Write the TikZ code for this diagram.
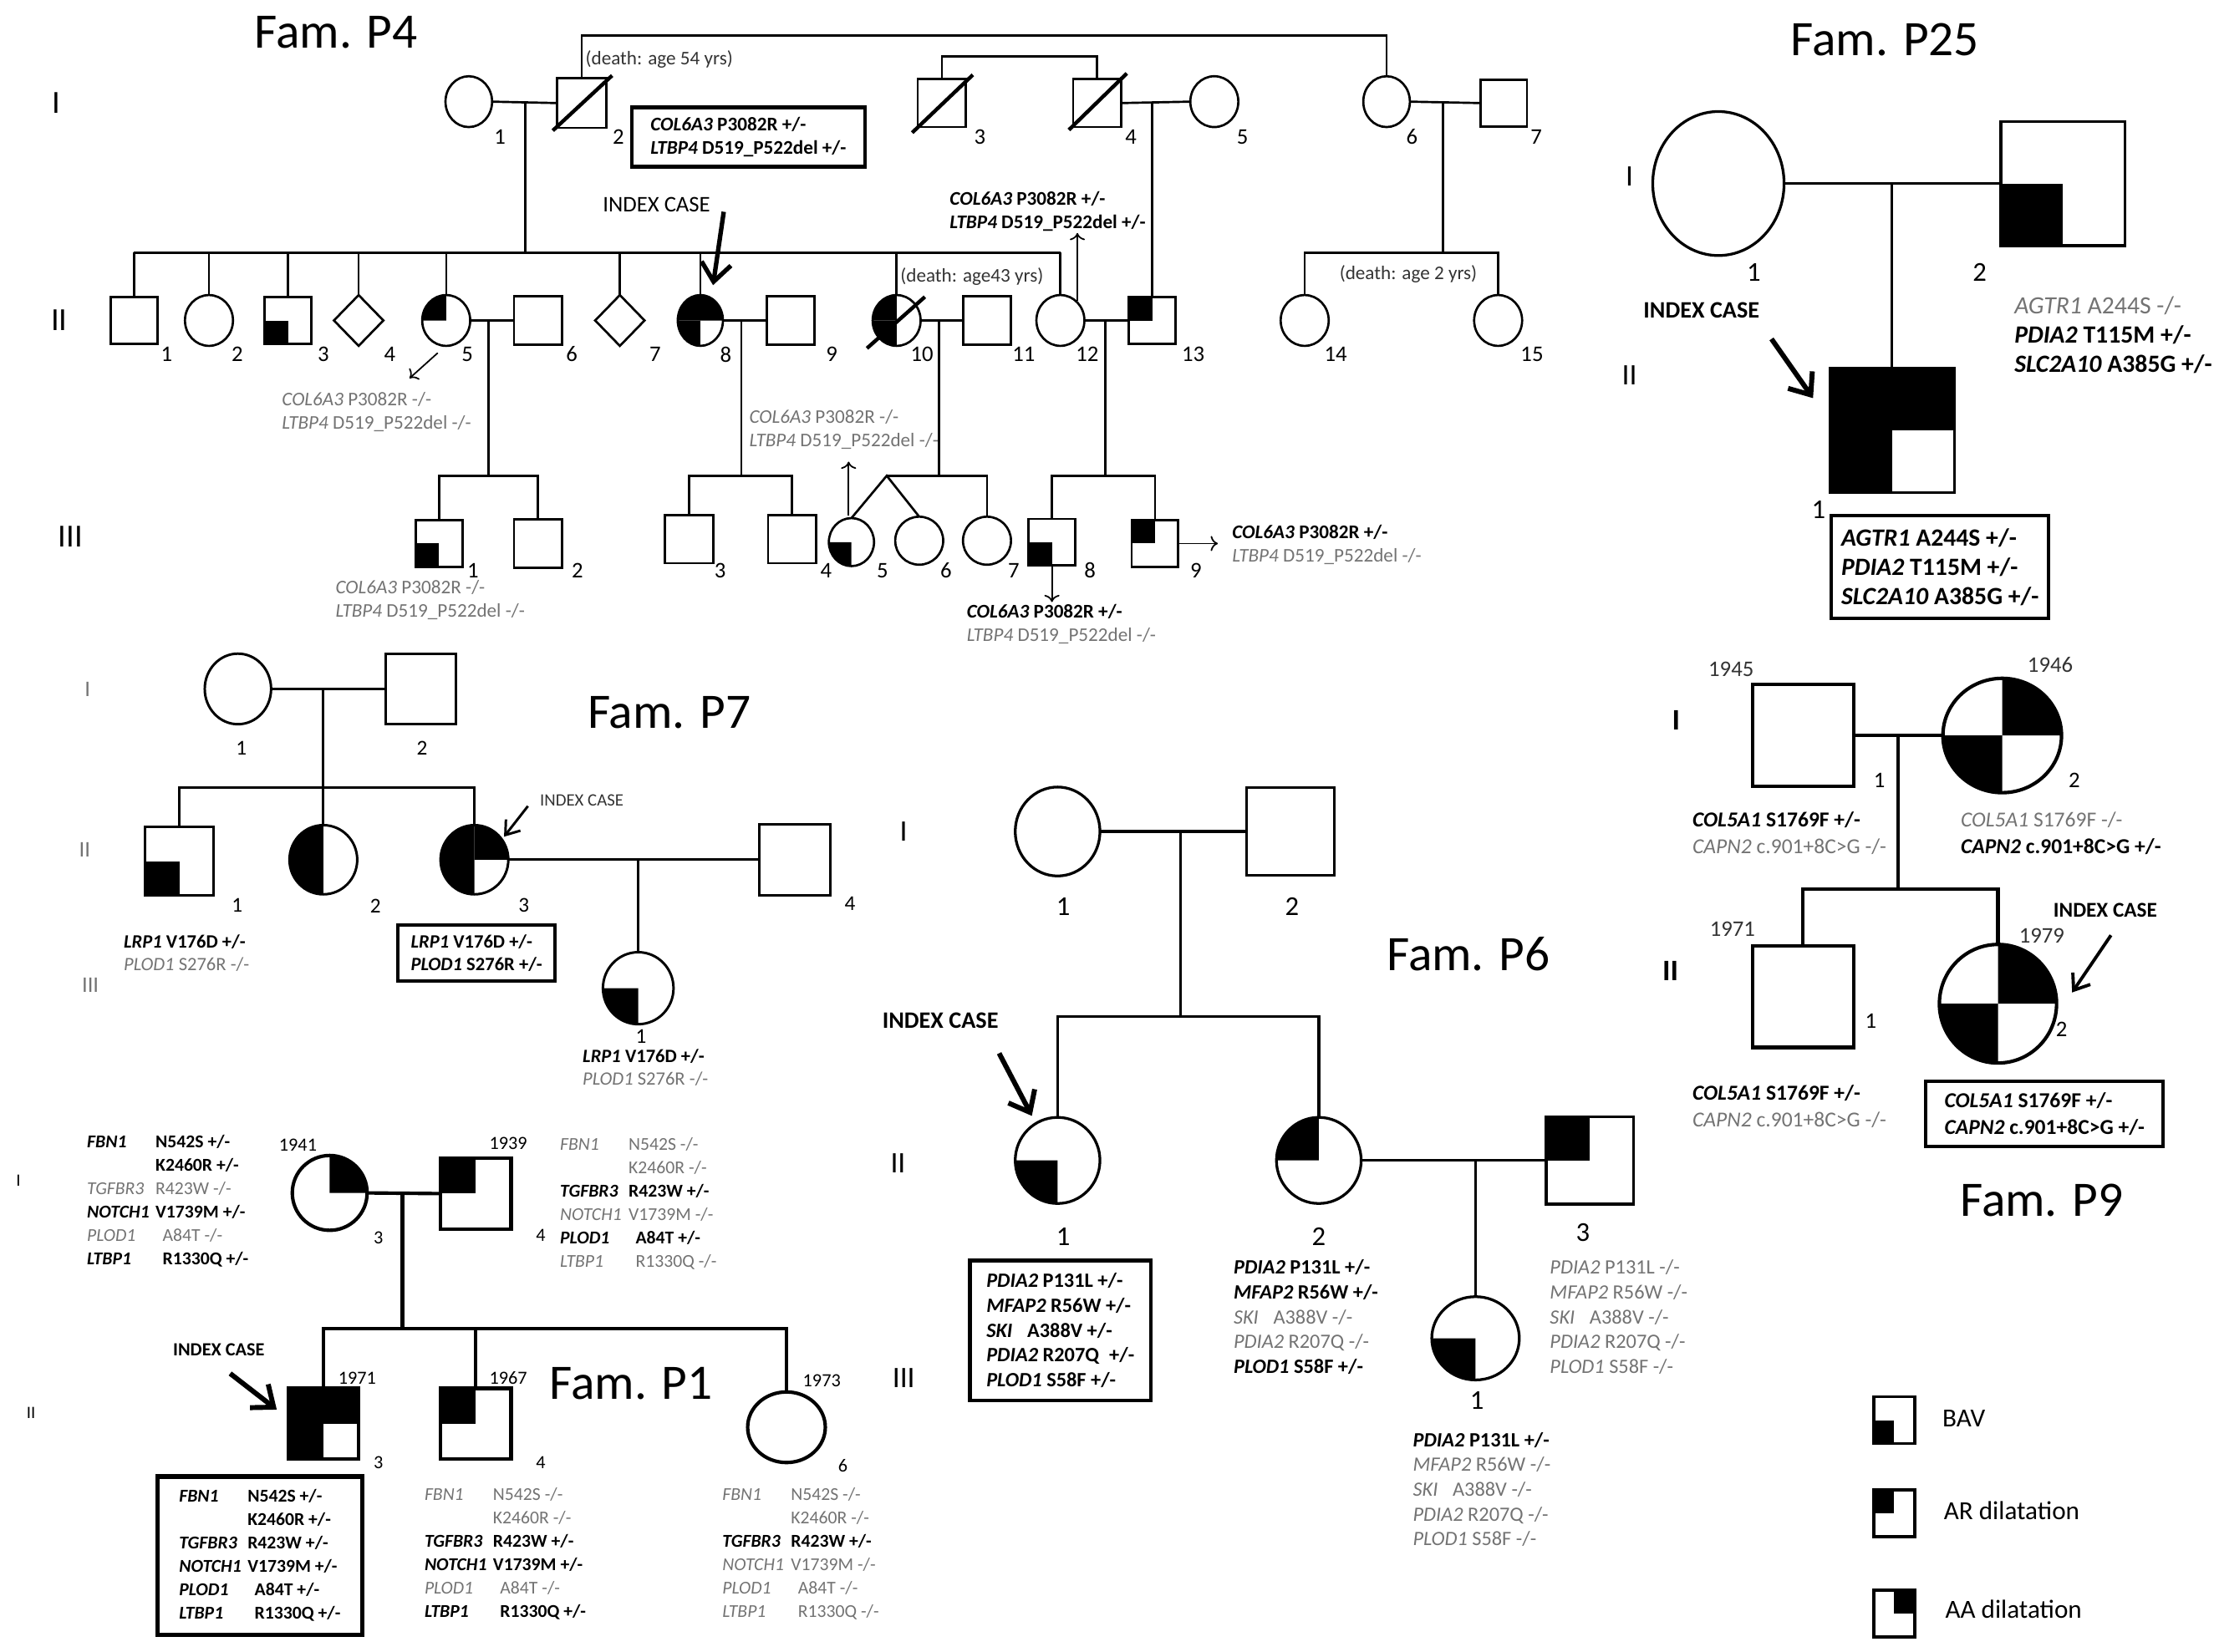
\documentclass[tikz,border=0pt]{standalone}
\usepackage{fontspec}
\setmainfont{Carlito}
\usetikzlibrary{positioning,calc,shapes.geometric,arrows.meta}
\colorlet{gtxt}{black!55}
\colorlet{dtxt}{black!80}
\newcommand\pfont[2]{\fontsize{#1}{#2}\selectfont}
\newcommand\gp[2]{\textbf{\textit{#1} #2}}
\newcommand\gn[2]{\textcolor{gtxt}{\textit{#1} #2}}
\newcommand\pb[2]{\textbf{\textit{#1}} & \textbf{#2}\\}
\newcommand\pg[2]{\textcolor{gtxt}{\textit{#1}} & \textcolor{gtxt}{#2}\\}
\newcommand\pedm[4]{\node[male,minimum size=#3*0.2mm] (#1) at (#2) {};
  \if\relax\detokenize{#4}\relax\else\foreach \q in {#4} {\fill (#1.center) rectangle (#1.\q);}\fi}
\newcommand\pedf[5]{\node[female,minimum width=#3*0.2mm,minimum height=#4*0.2mm] (#1) at (#2) {};
  \if\relax\detokenize{#5}\relax\else\foreach \q in {#5} {\fill (#1.center) -- (#1.\q) arc[start angle=\q,delta angle=90,x radius=#3*0.1mm,y radius=#4*0.1mm] -- cycle;}\fi}
\tikzset{every picture/.style={>=To,thick}}
\tikzset{
  male/.style={draw,rectangle,inner sep=0pt,outer sep=0pt,fill=white},
  female/.style={draw,ellipse,inner sep=0pt,outer sep=0pt,fill=white},
  unknown/.style={draw,diamond,inner sep=0pt,outer sep=0pt,fill=white,minimum width=35*0.2mm,minimum height=36*0.2mm},
  idx/.style={line width=2pt,-{Straight Barb[length=2.6mm,width=4.2mm]}},
  ptr/.style={line width=0.6pt,->},
  ttl/.style={font=\pfont{20}{24}},
  gen/.style={font=\pfont{#1}{#1}},
  bgen/.style={font=\pfont{#1}{#1}\bfseries},
  num/.style={inner sep=0pt,font=\pfont{#1}{#1}},
  txt/.style={align=left,anchor=west,inner sep=0pt},
  gbox/.style={draw,align=left,inner sep=0pt},
  p4t/.style={txt,font=\pfont{7.8}{9.4}},
  p25t/.style={txt,font=\pfont{10}{11.8}},
  p7t/.style={txt,font=\pfont{7.6}{9.2}},
  p6t/.style={txt,font=\pfont{8.2}{10}},
  p9t/.style={txt,font=\pfont{8.6}{10.8}},
  p1t/.style={txt,font=\pfont{7.3}{9.45}},
}
\begin{document}
\begin{tikzpicture}[x=0.2mm,y=-0.2mm]
\useasboundingbox (0,0) rectangle (1568,1170);

% Fam. P4
\begin{scope}[line width=0.9pt]
\node[ttl] (P4ttl) at (238,23) {Fam. P4};
\node[gen=13] (P4g1) at (40,73) {I};
\node[gen=13] (P4g2) at (42,227) {II};
\node[gen=13] (P4g3) at (50,380) {III};
\pedf{P4a1}{332,72}{33}{36}{}
\pedm{P4a2}{412,73}{35}{}
\pedm{P4a3}{667,73}{34}{}
\pedm{P4a4}{777,73}{34}{}
\pedf{P4a5}{860,72}{34}{36}{}
\pedf{P4a6}{982,72}{33}{36}{}
\pedm{P4a7}{1065,73}{33}{}
\pedm{P4b1}{95,227}{33}{}
\pedf{P4b2}{148,227}{34}{36}{}
\pedm{P4b3}{204,227}{33}{south west}
\node[unknown] (P4b4) at (254,227) {};
\pedf{P4b5}{316,227}{34}{36}{90}
\pedm{P4b6}{381,227}{34}{}
\node[unknown] (P4b7) at (439,227) {};
\pedf{P4b8}{496,227}{32}{36}{0,90,180}
\pedm{P4b9}{560,227}{34}{}
\pedf{P4b10}{635,227}{34}{36}{90,180}
\pedm{P4b11}{699,227}{34}{}
\pedf{P4b12}{751,227}{34}{36}{}
\pedm{P4b13}{816,227}{33}{north west}
\pedf{P4b14}{924,227}{34}{36}{}
\pedf{P4b15}{1061,227}{34}{36}{}
\pedm{P4c1}{311,385}{33}{south west}
\pedm{P4c2}{381,385}{34}{}
\pedm{P4c3}{488,382}{34}{}
\pedm{P4c4}{561,382}{34}{}
\pedf{P4c5}{603,384}{32}{34}{180}
\pedf{P4c6}{651,383}{34}{34}{}
\pedf{P4c7}{699,383}{34}{34}{}
\pedm{P4c8}{745,384}{33}{south west}
\pedm{P4c9}{818,385}{33}{north west}
\draw[line width=1.5pt] ($(P4a2.south west)+(-3,2)$) -- ($(P4a2.north east)+(4,-2)$);
\draw[line width=1.5pt] ($(P4a3.south west)+(-4,4)$) -- ($(P4a3.north east)+(5,-3)$);
\draw[line width=1.5pt] ($(P4a4.south west)+(-3,2)$) -- ($(P4a4.north east)+(4,-4)$);
\draw[line width=1.5pt] ($(P4b10.south west)+(-9,7)$) -- ($(P4b10.north east)+(8,-4)$);
\draw (P4a1.east) -- (P4a2.west);
\draw (P4a4.east) -- (P4a5.west);
\draw (P4a6.east) -- (P4a7.west);
\draw (P4b5.east) -- (P4b6.west);
\draw (P4b8.east) -- (P4b9.west);
\draw (P4b10.east) -- (P4b11.west);
\draw (P4b12.east) -- (P4b13.west);
\coordinate (P4top) at (700,25);
\coordinate (P4twin) at (720,40);
\draw (P4a2.north) |- (P4top) -| (P4a6.north);
\draw (P4a3.north) |- (P4twin) -| (P4a4.north);
\coordinate (P4d1) at (372,72);
\coordinate (P4s1) at (0,179);
\draw (P4d1) -- (P4d1 |- P4s1);
\draw (P4b1.north |- P4s1) -- (P4b12.north |- P4s1);
\foreach \c in {P4b1,P4b2,P4b3,P4b4,P4b5,P4b7,P4b8,P4b10,P4b12}
  \draw (\c.north) -- (\c.north |- P4s1);
\coordinate (P4d2) at (816,72);
\draw (P4d2) -- (P4b13.north);
\coordinate (P4d3) at (1022,72);
\draw (P4d3) -- (P4d3 |- P4s1);
\draw (P4b14.north) |- (P4b15.north |- P4s1) -- (P4b15.north);
\coordinate (P4s2) at (0,337);
\coordinate (P4d4) at (346,227);
\coordinate (P4d5) at (525,227);
\coordinate (P4d6) at (665,227);
\coordinate (P4d7) at (783,227);
\foreach \d in {P4d4,P4d5,P4d6,P4d7}
  \draw (\d) -- (\d |- P4s2);
\draw (P4c1.north) |- (P4c2.north |- P4s2) -- (P4c2.north);
\draw (P4c3.north) |- (P4c4.north |- P4s2) -- (P4c4.north);
\draw (P4c8.north) |- (P4c9.north |- P4s2) -- (P4c9.north);
\coordinate (P4tw) at (628,337);
\draw (P4c5.north) -- (P4tw) -- (P4c6.north);
\draw (P4tw) -| (P4c7.north);
\end{scope}
\foreach \t/\x in {1/354,2/438,3/694,4/801,5/880,6/1000,7/1088}
  \node[num=9] (P4na\t) at (\x,97) {\t};
\foreach \t/\x in {1/118,2/168,3/229,4/276,5/331,6/405,7/464,8/514,9/589,10/653,11/725,12/770,13/845,14/946,15/1085}
  \node[num=9] (P4nb\t) at (\x,251) {\t};
\foreach \t/\x in {1/335,2/409,3/510,4/585,5/625,6/670,7/718,8/772,9/847}
  \node[num=9] (P4nc\t) at (\x,404) {\t};
\node[p4t,text=dtxt] (P4x2) at (414,42) {(death: age 54 yrs)};
\node[p4t,text=dtxt] (P4x10) at (637,196) {(death: age43 yrs)};
\node[p4t,text=dtxt] (P4x14) at (948,194) {(death: age 2 yrs)};
\node[gbox,font=\pfont{7.8}{9.4},line width=1.5pt,minimum width=165*0.2mm,minimum height=42*0.2mm] (P4k2) at (530,97)
  {\gp{COL6A3}{P3082R +/-}\\\gp{LTBP4}{D519\_P522del +/-}};
\node[p4t] (P4k12) at (672,150) {\gp{COL6A3}{P3082R +/-}\\\gp{LTBP4}{D519\_P522del +/-}};
\node[p4t] (P4k5) at (199,292) {\gn{COL6A3}{P3082R -/-}\\\gn{LTBP4}{D519\_P522del -/-}};
\node[p4t] (P4k10) at (530,304) {\gn{COL6A3}{P3082R -/-}\\\gn{LTBP4}{D519\_P522del -/-}};
\node[p4t] (P4kc1) at (237,425) {\gn{COL6A3}{P3082R -/-}\\\gn{LTBP4}{D519\_P522del -/-}};
\node[p4t] (P4kc8) at (684,442) {\gp{COL6A3}{P3082R +/-}\\\gn{LTBP4}{D519\_P522del -/-}};
\node[p4t] (P4kc9) at (872,386) {\gp{COL6A3}{P3082R +/-}\\\gn{LTBP4}{D519\_P522del -/-}};
\draw[ptr] ($(P4b12.north)+(12,4)$) -- ++(0,-48);
\draw[ptr] ($(P4b5.south)+(-6,5)$) -- ++(-20,18);
\draw[ptr] ($(P4c5.north)+(-2,-2)$) -- ++(0,-38);
\draw[ptr] (P4c8.south) -- ++(0,26);
\draw[ptr] (P4c9.east) -- ++(28,0);
\node[font=\pfont{9}{11}] (P4idx) at (465,145) {INDEX CASE};
\draw[idx,line width=1.8pt] ($(P4idx.east)+(3,5)$) -- ($(P4b8.north)+(9,-7)$);

% Fam. P25
\begin{scope}[line width=1.1pt]
\node[ttl] (P25ttl) at (1335,28) {Fam. P25};
\node[gen=12] (P25g1) at (1154,125) {I};
\node[gen=12] (P25g2) at (1154,266) {II};
\pedf{P25a1}{1217,130}{93}{102}{}
\pedm{P25a2}{1461,130}{88}{south west}
\pedm{P25b1}{1340,305}{88}{north west,north east,south west}
\draw (P25a1.east) -- (P25a2.west);
\coordinate (P25d) at (1340,130);
\draw (P25d) -- (P25b1.north);
\end{scope}
\node[num=11] (P25na1) at (1242,193) {1};
\node[num=11] (P25na2) at (1402,193) {2};
\node[num=11] (P25nb1) at (1288,361) {1};
\node[p25t] (P25k2) at (1426,237) {\gn{AGTR1}{A244S -/-}\\\gp{PDIA2}{T115M +/-}\\\gp{SLC2A10}{A385G +/-}};
\node[gbox,font=\pfont{10}{11.8},line width=1.3pt,minimum width=154*0.2mm,minimum height=73*0.2mm] (P25k1) at (1374,401.5)
  {\gp{AGTR1}{A244S +/-}\\\gp{PDIA2}{T115M +/-}\\\gp{SLC2A10}{A385G +/-}};
\node[font=\pfont{9.5}{11}\bfseries] (P25idx) at (1205,220) {INDEX CASE};
\draw[idx] ($(P25idx.south east)+(2,8)$) -- ($(P25b1.west)+(-12,-23)$);

% Fam. P7
\begin{scope}[line width=1pt]
\node[ttl] (P7ttl) at (474,505) {Fam. P7};
\pedf{P7a1}{168.5,488}{47}{50}{}
\pedm{P7a2}{298,488}{50}{}
\pedm{P7b1}{127,610}{49}{south west}
\pedf{P7b2}{229,609}{48}{49}{90,180}
\pedf{P7b3}{336,609}{48}{49}{0,90,180}
\pedm{P7b4}{563,609}{50}{}
\pedf{P7c1}{452,700}{50}{51}{180}
\draw (P7a1.east) -- (P7a2.west);
\coordinate (P7d1) at (229,488);
\coordinate (P7s1) at (0,558);
\draw (P7d1) -- (P7b2.north);
\draw (P7b1.north) |- (P7b3.north |- P7s1) -- (P7b3.north);
\draw (P7b3.east) -- (P7b4.west);
\coordinate (P7d2) at (452,609);
\draw (P7d2) -- (P7c1.north);
\end{scope}
\node[gen=9,text=gtxt] (P7g1) at (62,488) {I};
\node[gen=9,text=gtxt] (P7g2) at (60,602) {II};
\node[gen=9,text=gtxt] (P7g3) at (64,698) {III};
\foreach \t/\x/\y in {1/171/530,2/299/530,1/168/641,2/266/642,3/371/641,4/602/640,1/454/734}
  \node[num=8.5] (P7n\x) at (\x,\y) {\t};
\node[p7t] (P7k1) at (87,675) {\gp{LRP1}{V176D +/-}\\\gn{PLOD1}{S276R -/-}};
\node[gbox,font=\pfont{7.6}{9.2},line width=1.4pt,minimum width=111*0.2mm,minimum height=40*0.2mm] (P7k3) at (337.5,675)
  {\gp{LRP1}{V176D +/-}\\\gp{PLOD1}{S276R +/-}};
\node[p7t] (P7kc1) at (412,756) {\gp{LRP1}{V176D +/-}\\\gn{PLOD1}{S276R -/-}};
\node[font=\pfont{7}{8},text=dtxt] (P7idx) at (412,567) {INDEX CASE};
\draw[line width=1pt,-{Straight Barb[length=1.8mm,width=2.6mm]}] ($(P7idx.west)+(-2,4)$) -- ($(P7b3.north east)+(4,1)$);

% Fam. P6
\begin{scope}[line width=1.1pt]
\node[ttl] (P6ttl) at (1040,676) {Fam. P6};
\node[gen=12] (P6g1) at (640,589) {I};
\node[gen=12] (P6g2) at (636,824) {II};
\node[gen=12] (P6g3) at (640,976) {III};
\pedf{P6a1}{749,589}{60}{63}{}
\pedm{P6a2}{914,589}{62}{}
\pedf{P6b1}{749,822}{60}{61}{180}
\pedf{P6b2}{934,822}{60}{61}{90}
\pedm{P6b3}{1126,822}{62}{north west}
\pedf{P6c1}{1045,948}{62}{59}{180}
\draw (P6a1.east) -- (P6a2.west);
\coordinate (P6d1) at (836,589);
\coordinate (P6s1) at (0,720);
\draw (P6d1) -- (P6d1 |- P6s1);
\draw (P6b1.north) |- (P6b2.north |- P6s1) -- (P6b2.north);
\draw (P6b2.east) -- (P6b3.west);
\coordinate (P6d2) at (1045,822);
\draw (P6d2) -- (P6c1.north);
\end{scope}
\foreach \t/\x/\y in {1/753/642,2/915/642,1/753/876,2/934/876,3/1121/873,1/1046/992}
  \node[num=11] (P6n\x) at (\x,\y) {\t};
\node[gbox,font=\pfont{8.2}{10},line width=1.6pt,minimum width=128*0.2mm,minimum height=99*0.2mm] (P6k1) at (751,942.5)
  {\gp{PDIA2}{P131L +/-}\\\gp{MFAP2}{R56W +/-}\\\gp{SKI}{\enspace A388V +/-}\\\gp{PDIA2}{R207Q\enspace +/-}\\\gp{PLOD1}{S58F +/-}};
\node[p6t] (P6k2) at (873,933)
  {\gp{PDIA2}{P131L +/-}\\\gp{MFAP2}{R56W +/-}\\\gn{SKI}{\enspace A388V -/-}\\\gn{PDIA2}{R207Q -/-}\\\gp{PLOD1}{S58F +/-}};
\node[p6t] (P6k3) at (1097,933)
  {\gn{PDIA2}{P131L -/-}\\\gn{MFAP2}{R56W -/-}\\\gn{SKI}{\enspace A388V -/-}\\\gn{PDIA2}{R207Q -/-}\\\gn{PLOD1}{S58F -/-}};
\node[p6t] (P6kc1) at (1000,1055)
  {\gp{PDIA2}{P131L +/-}\\\gn{MFAP2}{R56W -/-}\\\gn{SKI}{\enspace A388V -/-}\\\gn{PDIA2}{R207Q -/-}\\\gn{PLOD1}{S58F -/-}};
\node[font=\pfont{9.5}{11}\bfseries] (P6idx) at (666,723) {INDEX CASE};
\draw[idx] ($(P6idx.south east)+(-6,11)$) -- ($(P6b1.north west)+(3,-10)$);

% legend
\begin{scope}[line width=1.2pt]
\node[male,minimum width=29*0.2mm,minimum height=33*0.2mm] (LgA) at (1341.5,1006) {};
\node[male,minimum width=29*0.2mm,minimum height=33*0.2mm] (LgB) at (1341.5,1072) {};
\node[male,minimum width=29*0.2mm,minimum height=33*0.2mm] (LgC) at (1341.5,1143) {};
\fill (LgA.center) rectangle (LgA.south west);
\fill (LgB.center) rectangle (LgB.north west);
\fill (LgC.center) rectangle (LgC.north east);
\end{scope}
\node[txt,font=\pfont{10.5}{12}] (LgAt) at (1375,1005) {BAV};
\node[txt,font=\pfont{10.5}{12}] (LgBt) at (1376,1070) {AR dilatation};
\node[txt,font=\pfont{10.5}{12}] (LgCt) at (1377,1140) {AA dilatation};

% Fam. P9
\begin{scope}[line width=1.4pt]
\node[ttl] (P9ttl) at (1446,850) {Fam. P9};
\node[bgen=12] (P9g1) at (1187,510) {I};
\node[bgen=12] (P9g2) at (1183,688) {II};
\pedm{P9a1}{1277,521}{72}{}
\pedf{P9a2}{1418,521}{84}{81}{0,180}
\pedm{P9b1}{1277,706}{72}{}
\pedf{P9b2}{1415,711}{83}{84}{0,180}
\draw (P9a1.east) -- (P9a2.west);
\coordinate (P9d1) at (1344,521);
\coordinate (P9s1) at (0,630);
\draw (P9d1) -- (P9d1 |- P9s1);
\draw (P9b1.north) |- (P9b2.north |- P9s1) -- (P9b2.north);
\end{scope}
\foreach \t/\x/\y in {1945/1226/474,1946/1452/471,1971/1227/658,1979/1446/663}
  \node[num=9,text=dtxt] (P9y\t) at (\x,\y) {\t};
\foreach \t/\x/\y in {1/1331/553,2/1469/553,1/1325/723,2/1460/729}
  \node[num=9] (P9n\x) at (\x,\y) {\t};
\node[p9t] (P9k1) at (1198,590) {\gp{COL5A1}{S1769F +/-}\\\gn{CAPN2}{c.901+8C>G -/-}};
\node[p9t] (P9k2) at (1388,590) {\gn{COL5A1}{S1769F -/-}\\\gp{CAPN2}{c.901+8C>G +/-}};
\node[p9t] (P9kb1) at (1198,784) {\gp{COL5A1}{S1769F +/-}\\\gn{CAPN2}{c.901+8C>G -/-}};
\node[gbox,font=\pfont{8.6}{10.8},line width=1.3pt,minimum width=168*0.2mm,minimum height=46*0.2mm] (P9kb2) at (1448,789)
  {\gp{COL5A1}{S1769F +/-}\\\gp{CAPN2}{c.901+8C>G +/-}};
\node[font=\pfont{8.5}{10}\bfseries] (P9idx) at (1491,645) {INDEX CASE};
\draw[line width=1.3pt,-{Straight Barb[length=2mm,width=3mm]}] ($(P9idx.south)+(4,6)$) -- ($(P9b2.east)+(11,-8)$);

% Fam. P1
\begin{scope}[line width=1.4pt]
\node[ttl] (P1ttl) at (447,980) {Fam. P1};
\pedf{P1a3}{233.5,845}{53}{53}{0}
\pedm{P1a4}{337,845.5}{50}{north west}
\pedm{P1b3}{229,1008.5}{50}{north west,north east,south west}
\pedm{P1b4}{337,1008.5}{50}{north west}
\pedf{P1b6}{557,1011}{55}{50}{}
\draw (P1a3.east) -- (P1a4.west);
\coordinate (P1d1) at (285,845);
\coordinate (P1s1) at (0,941);
\draw (P1d1) -- (P1d1 |- P1s1);
\draw (P1b3.north) |- (P1b6.north |- P1s1) -- (P1b6.north);
\draw (P1b4.north) -- (P1b4.north |- P1s1);
\end{scope}
\node[gen=7] (P1g1) at (13,836) {I};
\node[gen=7] (P1g2) at (22,1001) {II};
\foreach \t/\x/\y in {1941/211/811,1939/360/810,1971/253/976,1967/360/976,1973/582/978}
  \node[num=7.5] (P1y\t) at (\x,\y) {\t};
\foreach \t/\x/\y in {3/268/877,4/383/875,3/268/1036,4/383/1036,6/597/1038}
  \node[num=7.5] (P1n\x\y) at (\x,\y) {\t};
\node[p1t] (P1k3) at (61,851) {\begin{tabular}{@{}p{9.7mm}@{}l@{}}
  \pb{FBN1}{N542S +/-}\pb{}{K2460R +/-}\pg{TGFBR3}{R423W -/-}\pb{NOTCH1}{V1739M +/-}\pg{PLOD1}{\hspace{1mm}A84T -/-}\pb{LTBP1}{\hspace{1mm}R1330Q +/-}\end{tabular}};
\node[p1t] (P1k4) at (396,853) {\begin{tabular}{@{}p{9.7mm}@{}l@{}}
  \pg{FBN1}{N542S -/-}\pg{}{K2460R -/-}\pb{TGFBR3}{R423W +/-}\pg{NOTCH1}{V1739M -/-}\pb{PLOD1}{\hspace{1mm}A84T +/-}\pg{LTBP1}{\hspace{1mm}R1330Q -/-}\end{tabular}};
\node[gbox,font=\pfont{7.3}{9.45},line width=1.8pt,minimum width=145*0.2mm,minimum height=112*0.2mm] (P1kb3) at (184,1102) {\begin{tabular}{@{}p{9.7mm}@{}l@{}}
  \pb{FBN1}{N542S +/-}\pb{}{K2460R +/-}\pb{TGFBR3}{R423W +/-}\pb{NOTCH1}{V1739M +/-}\pb{PLOD1}{\hspace{1mm}A84T +/-}\pb{LTBP1}{\hspace{1mm}R1330Q +/-}\end{tabular}};
\node[p1t] (P1kb4) at (300,1101) {\begin{tabular}{@{}p{9.7mm}@{}l@{}}
  \pg{FBN1}{N542S -/-}\pg{}{K2460R -/-}\pb{TGFBR3}{R423W +/-}\pb{NOTCH1}{V1739M +/-}\pg{PLOD1}{\hspace{1mm}A84T -/-}\pb{LTBP1}{\hspace{1mm}R1330Q +/-}\end{tabular}};
\node[p1t] (P1kb6) at (511,1101) {\begin{tabular}{@{}p{9.7mm}@{}l@{}}
  \pg{FBN1}{N542S -/-}\pg{}{K2460R -/-}\pb{TGFBR3}{R423W +/-}\pg{NOTCH1}{V1739M -/-}\pg{PLOD1}{\hspace{1mm}A84T -/-}\pg{LTBP1}{\hspace{1mm}R1330Q -/-}\end{tabular}};
\node[font=\pfont{7.5}{9}\bfseries] (P1idx) at (155,956) {INDEX CASE};
\draw[idx] ($(P1idx.south)+(8,6)$) -- ($(P1b3.west)+(-8,-10)$);
\end{tikzpicture}
\end{document}
